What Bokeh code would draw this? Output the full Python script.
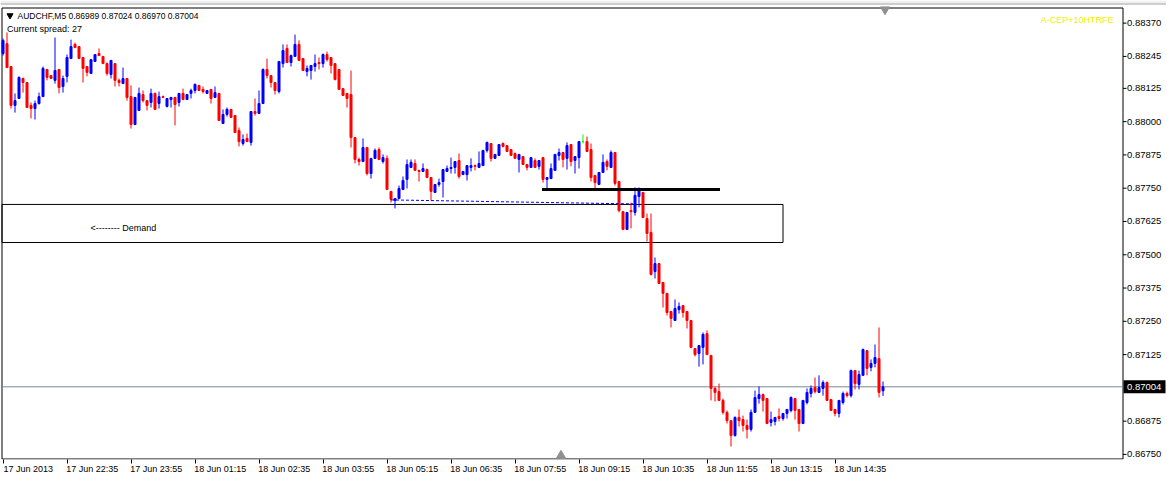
from bokeh.plotting import figure
from bokeh.models import ColumnDataSource, LinearAxis, FixedTicker, Range1d
from bokeh.embed import file_html
from bokeh.resources import INLINE
from bokeh.core.properties import value

# ---- AUDCHF M5 candles (17 Jun 21:15 -> 18 Jun 15:35) ----
open_ = [0.88256,0.88293,0.88207,0.88061,0.88087,0.88162,0.88147,0.88061,0.88049,0.88068,
 0.88094,0.88196,0.88173,0.88155,0.88196,0.88132,0.88170,0.88237,0.88290,0.88282,
 0.88241,0.88207,0.88181,0.88226,0.88256,0.88245,0.88218,0.88177,0.88218,0.88155,
 0.88143,0.88162,0.88094,0.87989,0.88042,0.88102,0.88079,0.88072,0.88106,0.88068,
 0.88094,0.88057,0.88083,0.88091,0.88072,0.88106,0.88083,0.88106,0.88117,0.88136,
 0.88121,0.88106,0.88121,0.88091,0.88106,0.87993,0.88027,0.88046,0.88023,0.87967,
 0.87918,0.87937,0.87922,0.88038,0.88031,0.88068,0.88196,0.88173,0.88147,0.88113,
 0.88218,0.88275,0.88222,0.88245,0.88290,0.88237,0.88188,0.88192,0.88207,0.88222,
 0.88218,0.88252,0.88241,0.88218,0.88196,0.88124,0.88106,0.88102,0.87940,0.87858,
 0.87850,0.87903,0.87805,0.87862,0.87895,0.87850,0.87862,0.87738,0.87704,0.87711,
 0.87745,0.87783,0.87828,0.87843,0.87817,0.87813,0.87820,0.87790,0.87734,0.87764,
 0.87775,0.87813,0.87824,0.87828,0.87854,0.87801,0.87801,0.87828,0.87835,0.87828,
 0.87835,0.87892,0.87918,0.87862,0.87873,0.87918,0.87910,0.87895,0.87880,0.87858,
 0.87869,0.87839,0.87828,0.87854,0.87832,0.87865,0.87783,0.87786,0.87817,0.87873,
 0.87884,0.87862,0.87914,0.87854,0.87865,0.87925,0.87925,0.87895,0.87798,0.87764,
 0.87809,0.87850,0.87828,0.87884,0.87775,0.87662,0.87595,0.87666,0.87659,0.87719,
 0.87734,0.87636,0.87584,0.87437,0.87467,0.87396,0.87355,0.87287,0.87253,0.87294,
 0.87309,0.87287,0.87253,0.87148,0.87129,0.87152,0.87204,0.87122,0.86998,0.86986,
 0.86953,0.86908,0.86877,0.86821,0.86889,0.86881,0.86859,0.86844,0.86908,0.86960,
 0.86975,0.86960,0.86870,0.86874,0.86893,0.86885,0.86904,0.86915,0.86960,0.86919,
 0.86866,0.86945,0.86979,0.87001,0.86983,0.86998,0.87020,0.86956,0.86919,0.86904,
 0.86945,0.86979,0.86971,0.87065,0.87013,0.87047,0.87140,0.87077,0.87092,0.87110,
 0.86989]
high = [0.88312,0.88335,0.88207,0.88106,0.88170,0.88166,0.88147,0.88072,0.88079,0.88109,
 0.88207,0.88196,0.88173,0.88316,0.88196,0.88173,0.88252,0.88308,0.88297,0.88282,
 0.88241,0.88207,0.88233,0.88252,0.88275,0.88245,0.88222,0.88230,0.88218,0.88162,
 0.88203,0.88162,0.88136,0.88091,0.88128,0.88117,0.88079,0.88124,0.88109,0.88113,
 0.88098,0.88087,0.88091,0.88091,0.88106,0.88124,0.88102,0.88124,0.88143,0.88136,
 0.88132,0.88117,0.88121,0.88132,0.88106,0.88046,0.88053,0.88046,0.88023,0.87978,
 0.87952,0.87955,0.88038,0.88087,0.88117,0.88200,0.88237,0.88173,0.88147,0.88226,
 0.88290,0.88290,0.88252,0.88327,0.88305,0.88237,0.88211,0.88211,0.88252,0.88241,
 0.88256,0.88263,0.88241,0.88218,0.88196,0.88124,0.88106,0.88192,0.87940,0.87865,
 0.87937,0.87903,0.87862,0.87899,0.87903,0.87877,0.87873,0.87738,0.87711,0.87760,
 0.87794,0.87858,0.87858,0.87858,0.87817,0.87843,0.87824,0.87790,0.87764,0.87786,
 0.87820,0.87835,0.87865,0.87850,0.87880,0.87813,0.87835,0.87862,0.87839,0.87888,
 0.87892,0.87925,0.87918,0.87877,0.87914,0.87922,0.87910,0.87895,0.87884,0.87877,
 0.87869,0.87839,0.87865,0.87862,0.87854,0.87865,0.87790,0.87843,0.87877,0.87899,
 0.87884,0.87922,0.87914,0.87869,0.87925,0.87952,0.87944,0.87918,0.87798,0.87809,
 0.87877,0.87858,0.87892,0.87884,0.87775,0.87662,0.87659,0.87696,0.87753,0.87753,
 0.87734,0.87655,0.87655,0.87490,0.87467,0.87396,0.87355,0.87287,0.87332,0.87321,
 0.87309,0.87287,0.87253,0.87148,0.87159,0.87208,0.87216,0.87122,0.87005,0.87016,
 0.86960,0.86915,0.86877,0.86893,0.86919,0.86896,0.86881,0.86919,0.86990,0.87005,
 0.86979,0.86960,0.86911,0.86889,0.86923,0.86904,0.86919,0.86968,0.86960,0.86919,
 0.86953,0.86998,0.87009,0.87039,0.87047,0.87028,0.87024,0.86956,0.86919,0.86953,
 0.86986,0.86986,0.87069,0.87065,0.87065,0.87148,0.87140,0.87107,0.87163,0.87227,
 0.87024]
low = [0.88248,0.88203,0.88049,0.88034,0.88087,0.88109,0.88053,0.88012,0.88008,0.88064,
 0.88094,0.88155,0.88162,0.88143,0.88106,0.88109,0.88147,0.88237,0.88278,0.88237,
 0.88147,0.88170,0.88181,0.88226,0.88248,0.88218,0.88173,0.88162,0.88132,0.88132,
 0.88143,0.88079,0.87974,0.87989,0.88042,0.88072,0.88042,0.88053,0.88046,0.88049,
 0.88091,0.88053,0.88053,0.87986,0.88057,0.88083,0.88083,0.88087,0.88106,0.88117,
 0.88106,0.88106,0.88068,0.88091,0.88004,0.87993,0.88019,0.88016,0.87959,0.87907,
 0.87910,0.87925,0.87910,0.88023,0.88031,0.88068,0.88162,0.88128,0.88102,0.88106,
 0.88203,0.88222,0.88207,0.88245,0.88230,0.88192,0.88170,0.88158,0.88188,0.88196,
 0.88203,0.88226,0.88181,0.88155,0.88121,0.88098,0.88053,0.87903,0.87843,0.87835,
 0.87850,0.87798,0.87786,0.87862,0.87858,0.87843,0.87745,0.87696,0.87674,0.87711,
 0.87745,0.87749,0.87828,0.87817,0.87775,0.87813,0.87790,0.87704,0.87734,0.87756,
 0.87715,0.87813,0.87805,0.87805,0.87786,0.87801,0.87779,0.87813,0.87817,0.87828,
 0.87835,0.87884,0.87850,0.87862,0.87873,0.87903,0.87888,0.87873,0.87862,0.87809,
 0.87839,0.87817,0.87828,0.87828,0.87820,0.87771,0.87749,0.87786,0.87817,0.87854,
 0.87828,0.87820,0.87832,0.87805,0.87824,0.87918,0.87888,0.87775,0.87749,0.87764,
 0.87809,0.87817,0.87828,0.87760,0.87659,0.87595,0.87595,0.87599,0.87647,0.87678,
 0.87640,0.87550,0.87422,0.87411,0.87392,0.87302,0.87272,0.87227,0.87253,0.87279,
 0.87264,0.87223,0.87152,0.87118,0.87080,0.87088,0.87125,0.86953,0.86949,0.86953,
 0.86900,0.86866,0.86780,0.86817,0.86855,0.86836,0.86810,0.86836,0.86908,0.86941,
 0.86911,0.86866,0.86855,0.86859,0.86874,0.86877,0.86885,0.86908,0.86881,0.86836,
 0.86866,0.86938,0.86964,0.86979,0.86983,0.86971,0.86953,0.86915,0.86893,0.86889,
 0.86938,0.86964,0.86964,0.86994,0.86994,0.87047,0.87047,0.87062,0.87077,0.86964,
 0.86970]
close = [0.88305,0.88203,0.88061,0.88079,0.88166,0.88147,0.88053,0.88049,0.88068,0.88094,
 0.88200,0.88166,0.88162,0.88192,0.88128,0.88162,0.88241,0.88282,0.88278,0.88237,
 0.88200,0.88185,0.88233,0.88252,0.88248,0.88218,0.88181,0.88230,0.88155,0.88147,
 0.88162,0.88091,0.87989,0.88091,0.88106,0.88079,0.88061,0.88106,0.88046,0.88094,
 0.88091,0.88087,0.88091,0.88064,0.88106,0.88083,0.88102,0.88117,0.88140,0.88117,
 0.88113,0.88117,0.88087,0.88109,0.88004,0.88027,0.88046,0.88016,0.87959,0.87925,
 0.87933,0.87925,0.88038,0.88031,0.88068,0.88196,0.88173,0.88147,0.88117,0.88226,
 0.88267,0.88222,0.88248,0.88290,0.88230,0.88192,0.88200,0.88211,0.88218,0.88218,
 0.88252,0.88233,0.88211,0.88158,0.88121,0.88098,0.88087,0.87940,0.87858,0.87850,
 0.87903,0.87805,0.87862,0.87892,0.87858,0.87865,0.87745,0.87708,0.87711,0.87749,
 0.87779,0.87839,0.87847,0.87817,0.87813,0.87824,0.87790,0.87738,0.87764,0.87771,
 0.87820,0.87824,0.87828,0.87850,0.87794,0.87813,0.87835,0.87835,0.87832,0.87843,
 0.87892,0.87922,0.87862,0.87877,0.87914,0.87907,0.87888,0.87873,0.87862,0.87877,
 0.87839,0.87828,0.87865,0.87828,0.87854,0.87783,0.87790,0.87824,0.87877,0.87884,
 0.87858,0.87910,0.87850,0.87869,0.87925,0.87925,0.87888,0.87790,0.87771,0.87809,
 0.87847,0.87832,0.87884,0.87768,0.87666,0.87595,0.87659,0.87662,0.87723,0.87741,
 0.87640,0.87580,0.87426,0.87467,0.87392,0.87355,0.87283,0.87261,0.87298,0.87306,
 0.87283,0.87253,0.87152,0.87125,0.87159,0.87201,0.87125,0.86998,0.86983,0.86953,
 0.86908,0.86877,0.86821,0.86889,0.86877,0.86859,0.86844,0.86908,0.86964,0.86975,
 0.86953,0.86866,0.86881,0.86889,0.86885,0.86904,0.86919,0.86964,0.86915,0.86866,
 0.86953,0.86983,0.86998,0.86986,0.87001,0.87020,0.86953,0.86915,0.86904,0.86953,
 0.86979,0.86971,0.87065,0.87016,0.87050,0.87144,0.87073,0.87092,0.87114,0.86983,
 0.87004]

time_tick_bars = [0, 16, 32, 48, 64, 80, 96, 112, 128, 144, 160, 176, 192, 208]
time_labels = ["17 Jun 2013", "17 Jun 22:35", "17 Jun 23:55", "18 Jun 01:15", "18 Jun 02:35",
               "18 Jun 03:55", "18 Jun 05:15", "18 Jun 06:35", "18 Jun 07:55", "18 Jun 09:15",
               "18 Jun 10:35", "18 Jun 11:55", "18 Jun 13:15", "18 Jun 14:35"]
price_ticks = [0.88370, 0.88245, 0.88125, 0.88000, 0.87875, 0.87750, 0.87625, 0.87500,
               0.87375, 0.87250, 0.87125, 0.86875, 0.86750]

bid_price = 0.87004
header_text = "AUDCHF,M5  0.86989 0.87024 0.86970 0.87004"
spread_text = "Current spread: 27"
demand_text = "<-------- Demand"
corner_text = "A-CEP+10HTRFE"
demand_zone_x = [-0.25, 195.0]
demand_zone_y = [0.87546, 0.87689]
level_x = [134.75, 179.25]
level_y = [0.87745, 0.87745]
trend_x = [97.0, 157.5]
trend_y = [0.87706, 0.87691]

BULL, BEAR, DOJI = "#0000FF", "#FF0000", "#00FF00"
FONT = "Liberation Sans"

# ---- layout helpers: window pixel -> data coordinates (4 px per bar) ----
FRAME_TOP = 0
FRAME_W, FRAME_H = 1166, 459
X0 = -0.625
PX_PER_PRICE = 1 / 3.756e-5
Y_TOP = 0.88455
Y_BOT = Y_TOP - FRAME_H / PX_PER_PRICE


def gx(px):
    return X0 + px / 4.0


def gy(py):
    return Y_TOP - (py - FRAME_TOP) / PX_PER_PRICE


n = len(open_)
xs = list(range(n))
cols = [BULL if c > o else (BEAR if c < o else DOJI) for o, c in zip(open_, close)]
src = ColumnDataSource(dict(x=xs, o=open_, h=high, l=low, c=close,
                            top=[max(a, b) for a, b in zip(open_, close)],
                            bot=[min(a, b) for a, b in zip(open_, close)],
                            col=cols))

p = figure(frame_width=FRAME_W, frame_height=FRAME_H, output_backend="svg", toolbar_location=None,
           x_range=Range1d(X0, X0 + FRAME_W / 4.0), y_range=Range1d(Y_BOT, Y_TOP),
           x_axis_location=None, y_axis_location=None,
           min_border_left=0, min_border_top=FRAME_TOP, min_border_right=0, min_border_bottom=0,
           background_fill_color="white", border_fill_color="white")
p.xgrid.visible = False
p.ygrid.visible = False
p.outline_line_color = None

# time axis: tick marks at the bars, labels starting at each tick
xax_ticks = LinearAxis(ticker=FixedTicker(ticks=time_tick_bars),
                       major_label_overrides={t: "" for t in time_tick_bars},
                       axis_line_color=None, major_tick_out=4, major_tick_in=0, minor_tick_out=0,
                       minor_tick_in=0, major_tick_line_color="black", major_label_standoff=0,
                       major_label_text_font_size="1px")
p.add_layout(xax_ticks, "below")
label_pos = [t + 6.3 for t in time_tick_bars]
xax_labels = LinearAxis(ticker=FixedTicker(ticks=label_pos),
                        major_label_overrides={lp: s for lp, s in zip(label_pos, time_labels)},
                        axis_line_color=None, major_tick_out=0, major_tick_in=0, minor_tick_out=0,
                        minor_tick_in=0, major_label_standoff=0,
                        major_label_text_font=FONT, major_label_text_font_size="9px",
                        major_label_text_color="black")
p.add_layout(xax_labels, "below")

# window chrome strip at the top
p.quad(left=[gx(0)], right=[gx(FRAME_W)], top=[gy(0)], bottom=[gy(3)],
       fill_color="#F0F0F0", line_color=None)
p.segment(x0=[gx(0)], y0=[gy(3.5)], x1=[gx(FRAME_W)], y1=[gy(3.5)],
          line_color="#A0A0A0", line_width=1)

# chart window border
B_L, B_R, B_T, B_B = gx(1.5), gx(1122.5), gy(7.5), gy(458.5)
p.quad(left=[B_L], right=[B_R], top=[B_T], bottom=[B_B], fill_color=None,
       line_color="black", line_width=1)

# price scale (right)
price_labels = [f"{t:.5f}" for t in price_ticks]
p.segment(x0=[B_R] * len(price_ticks), y0=price_ticks, x1=[gx(1126)] * len(price_ticks),
          y1=price_ticks, line_color="black", line_width=1)
p.text(x=[gx(1126.5)] * len(price_ticks), y=price_ticks, text=price_labels,
       text_font=value(FONT), text_font_size="9.5px", text_baseline="middle",
       text_align="left", text_color="black")

# bid line + price box
p.segment(x0=[B_L], y0=[bid_price], x1=[B_R], y1=[bid_price], line_color="#778899", line_width=1)
p.quad(left=[gx(1123)], right=[gx(1165)], top=[bid_price + 6.5 / PX_PER_PRICE],
       bottom=[bid_price - 6.5 / PX_PER_PRICE], fill_color="black", line_color=None)
p.text(x=[gx(1126.5)], y=[bid_price], text=["0.87004"], text_font=value(FONT),
       text_font_size="9.5px", text_baseline="middle", text_align="left", text_color="white")

# demand zone
p.quad(left=[demand_zone_x[0]], right=[demand_zone_x[1]], bottom=[demand_zone_y[0]],
       top=[demand_zone_y[1]], fill_color=None, line_color="black", line_width=1)

# candles
p.segment(x0="x", y0="h", x1="x", y1="l", line_color="col", line_width=1, source=src)
p.vbar(x="x", width=0.5, top="top", bottom="bot", fill_color="col", line_color="col",
       line_width=1, source=src)

# drawn objects
p.line(level_x, level_y, line_color="black", line_width=3)
p.line(trend_x, trend_y, line_color="#0000FF", line_width=1, line_dash="3 2")

# texts
p.scatter([gx(9.5)], [gy(15)], marker="inverted_triangle", size=6, color="black")
p.text(x=[gx(17)], y=[gy(15.5)], text=[header_text], text_font=value(FONT),
       text_font_size="8.5px", text_baseline="middle", text_color="black")
p.text(x=[gx(6.5)], y=[gy(28)], text=[spread_text], text_font=value(FONT),
       text_font_size="9px", text_baseline="middle", text_color="black")
p.text(x=[gx(90)], y=[gy(227)], text=[demand_text], text_font=value(FONT),
       text_font_size="9px", text_baseline="middle", text_color="black")
p.text(x=[gx(1113)], y=[gy(19)], text=[corner_text], text_font=value(FONT),
       text_font_size="9px", text_baseline="middle", text_align="right", text_color="#F0F000")

# chart-shift markers
p.scatter([gx(884.5)], [gy(9)], marker="inverted_triangle", size=9, color="#909090")
p.scatter([gx(560.5)], [gy(455)], marker="triangle", size=9, color="#909090")

open("out.html", "w").write(file_html(p, INLINE))
